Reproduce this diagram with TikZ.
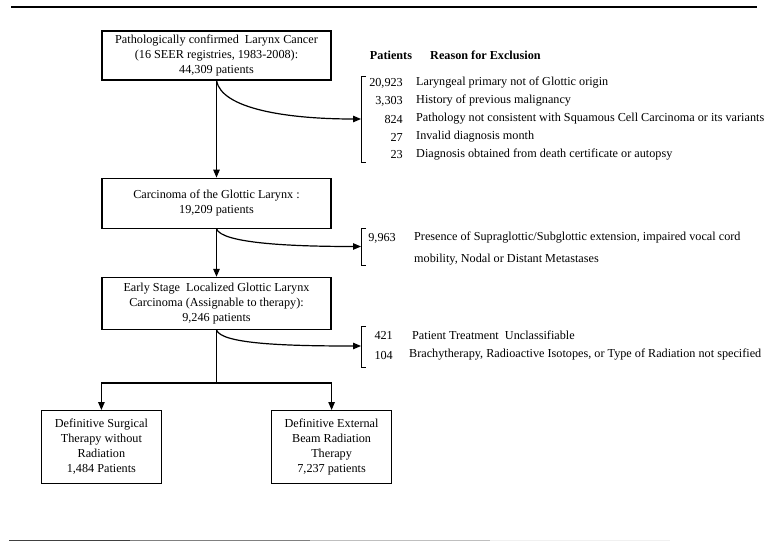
\documentclass[tikz,border=0pt]{standalone}
\usepackage{fontspec}
\setmainfont{Liberation Serif}
\usetikzlibrary{arrows.meta,positioning}

\begin{document}
\begin{tikzpicture}[x=1pt,y=-1pt]

  \tikzset{main node/.style={rectangle, draw, line width=1.2pt,
  		align=center, inner sep=2pt, font=\fontsize{12.2}{15}\selectfont}, }
  \tikzset{wide node/.style={main node, minimum width=229pt}, }
  \tikzset{small node/.style={main node, minimum width=120pt, minimum height=73pt}, }
  \tikzset{linea/.style={-{Triangle[length=8pt,width=6.5pt]}, line width=1.2pt}, }
  \tikzset{brace/.style={line width=1pt}, }
  \tikzset{list text/.style={font=\fontsize{12.2}{15}\selectfont, inner sep=0pt}, }
\useasboundingbox (0,0) rectangle (767,541);
\draw[line width=1.8pt] (11,7) -- (757,7);
\fill[black!75] (9,539.6) rectangle (130,541);
\fill[black!50] (130,539.6) rectangle (310,541);
\fill[black!25] (310,539.6) rectangle (490,541);
\fill[black!6] (490,539.6) rectangle (670,541);

\node[wide node, minimum height=49pt] (1) at (216.5,55.5)
  {Pathologically confirmed\ \ Larynx Cancer\\(16 SEER registries, 1983-2008):\\44,309 patients};
\node[wide node, minimum height=50pt] (2) [below=97pt of 1]
  {Carcinoma of the Glottic Larynx :\\19,209 patients};
\node[wide node, minimum height=52pt] (3) [below=48pt of 2]
  {Early Stage\ \ Localized Glottic Larynx\\Carcinoma (Assignable to therapy):\\9,246 patients};
\node[small node] (4) [below=80pt of 3.south west]
  {Definitive Surgical\\Therapy without\\Radiation\\1,484 Patients};
\node[small node] (5) [below=80pt of 3.south east]
  {Definitive External\\Beam Radiation\\Therapy\\7,237 patients};
\coordinate (split) at ([yshift=-53pt]3.south);

%% exclusion lists
\node[list text, font=\fontsize{12.2}{15}\selectfont\bfseries] (h1) at (391,55) {Patients};
\node[list text, font=\fontsize{12.2}{15}\selectfont\bfseries, anchor=west] (h2) at (430,55) {Reason for Exclusion};
\coordinate (b1) at (361,119);
\coordinate (b2) at (361,246.5);
\coordinate (b3) at (361,346);
\draw[brace] (366,76) -- (361,76) -- (361,162) -- (366,162);
\draw[brace] (366,228) -- (361,228) -- (361,265) -- (366,265);
\draw[brace] (366,326) -- (361,326) -- (361,367) -- (366,367);
\foreach \y/\n/\r in {83/{20,923}/{Laryngeal primary not of Glottic origin},
  101/{3,303}/{History of previous malignancy},
  119/824/{Pathology not consistent with Squamous Cell Carcinoma or its variants},
  137/27/{Invalid diagnosis month},
  155/23/{Diagnosis obtained from death certificate or autopsy}}
{
  \node[list text, anchor=east] (n\y) at (403,\y) {\n};
  \node[list text, anchor=west] (r\y) at (416,\y) {\r};
}
\node[list text, anchor=east] (n238) at (396,238) {9,963};
\node[list text, anchor=west] (r238) at (414,238) {Presence of Supraglottic/Subglottic extension, impaired vocal cord};
\node[list text, anchor=west] (r260) at (414,260) {mobility, Nodal or Distant Metastases};
\node[list text, anchor=east] (n335) at (393,335) {421};
\node[list text, anchor=west] (r335) at (412,335) {Patient Treatment\ \ Unclassifiable};
\node[list text, anchor=east] (n355) at (393,355) {104};
\node[list text, anchor=west] (r355) at (409,355) {Brachytherapy, Radioactive Isotopes, or Type of Radiation not specified};

%% connectors
\path[linea] (1) edge (2);
\path[linea] (2) edge (3);
\draw[line width=1.2pt] (3.south) -- (split);
\draw[linea] (split) -| (4.north);
\draw[linea] (split) -| (5.north);
\draw[linea] (1.south) .. controls +(5,28) and +(-75,0) .. (b1);
\draw[linea] (2.south) .. controls +(5,14) and +(-75,0) .. (b2);
\draw[linea] (3.south) .. controls +(5,14) and +(-75,0) .. (b3);
%%
\end{tikzpicture}
\end{document}
